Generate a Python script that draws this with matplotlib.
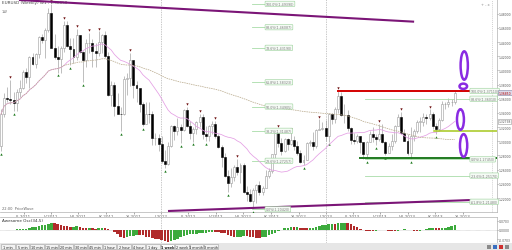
import matplotlib
matplotlib.use("Agg")
import matplotlib.pyplot as plt
from matplotlib.patches import Ellipse, Rectangle
import numpy as np
import pandas as pd

# EUR/USD weekly, week of 2011-01-10 .. week of 2013-10-14
start_date = "2011-01-10"
first_open = 1.2940
closes = [1.3382, 1.3612, 1.3602, 1.3580, 1.3546, 1.3697, 1.3754, 1.3980, 1.3906, 1.4183,
          1.4091, 1.4232, 1.4474, 1.4431, 1.4563, 1.4806, 1.4320, 1.4190, 1.4155, 1.4315,
          1.4640, 1.4350, 1.4305, 1.4196, 1.4500, 1.4260, 1.4150, 1.4380, 1.4390, 1.4280,
          1.4240, 1.4395, 1.4495, 1.4210, 1.3650, 1.3790, 1.3500, 1.3390, 1.3380, 1.3880,
          1.3895, 1.4150, 1.3790, 1.3750, 1.3520, 1.3240, 1.3390, 1.3380, 1.3040, 1.3050,
          1.2960, 1.2720, 1.2680, 1.2930, 1.3220, 1.3140, 1.3200, 1.3160, 1.3445, 1.3210,
          1.3120, 1.3170, 1.3275, 1.3340, 1.3100, 1.3075, 1.3220, 1.3240, 1.3080, 1.2915,
          1.2780, 1.2510, 1.2415, 1.2500, 1.2640, 1.2570, 1.2660, 1.2290, 1.2250, 1.2155,
          1.2320, 1.2385, 1.2290, 1.2335, 1.2515, 1.2575, 1.2815, 1.3120, 1.2980, 1.2860,
          1.3035, 1.2955, 1.3020, 1.2940, 1.2835, 1.2710, 1.2740, 1.2975, 1.2985, 1.2930,
          1.3160, 1.3180, 1.3190, 1.3070, 1.3385, 1.3315, 1.3460, 1.3635, 1.3365, 1.3365,
          1.3190, 1.3020, 1.3005, 1.3075, 1.2985, 1.2820, 1.2990, 1.3110, 1.3055, 1.3030,
          1.3110, 1.2990, 1.2835, 1.2935, 1.3000, 1.3220, 1.3345, 1.3120, 1.3010, 1.2835,
          1.3070, 1.3145, 1.3275, 1.3275, 1.3345, 1.3325, 1.3380, 1.3215, 1.3170, 1.3300,
          1.3525, 1.3525, 1.3555, 1.3555, 1.3685]
highs = [1.3457, 1.3686, 1.3760, 1.3862, 1.3690, 1.3740, 1.3860, 1.4000, 1.4035, 1.4200,
         1.4250, 1.4250, 1.4490, 1.4520, 1.4600, 1.4880, 1.4939, 1.4520, 1.4345, 1.4345,
         1.4700, 1.4700, 1.4450, 1.4450, 1.4580, 1.4500, 1.4270, 1.4440, 1.4530, 1.4440,
         1.4380, 1.4550, 1.4520, 1.4550, 1.4260, 1.3850, 1.3840, 1.3680, 1.3490, 1.3915,
         1.3960, 1.4247, 1.4080, 1.3850, 1.3620, 1.3560, 1.3550, 1.3550, 1.3430, 1.3120,
         1.3110, 1.3080, 1.2880, 1.2990, 1.3235, 1.3235, 1.3322, 1.3240, 1.3450, 1.3486,
         1.3290, 1.3195, 1.3290, 1.3385, 1.3380, 1.3210, 1.3225, 1.3280, 1.3285, 1.3100,
         1.2950, 1.2830, 1.2590, 1.2625, 1.2670, 1.2747, 1.2692, 1.2690, 1.2370, 1.2330,
         1.2340, 1.2400, 1.2440, 1.2370, 1.2590, 1.2620, 1.2820, 1.3170, 1.3172, 1.3050,
         1.3050, 1.3040, 1.3140, 1.3070, 1.3010, 1.2880, 1.2800, 1.2985, 1.3020, 1.3130,
         1.3170, 1.3308, 1.3270, 1.3300, 1.3405, 1.3403, 1.3480, 1.3711, 1.3700, 1.3520,
         1.3440, 1.3200, 1.3120, 1.3100, 1.3020, 1.2960, 1.3000, 1.3140, 1.3200, 1.3110,
         1.3240, 1.3240, 1.3005, 1.2980, 1.3110, 1.3230, 1.3390, 1.3415, 1.3180, 1.3110,
         1.3200, 1.3180, 1.3300, 1.3345, 1.3400, 1.3390, 1.3450, 1.3420, 1.3260, 1.3330,
         1.3570, 1.3550, 1.3610, 1.3590, 1.3705]
lows = [1.2867, 1.3341, 1.3555, 1.3530, 1.3430, 1.3430, 1.3620, 1.3740, 1.3820, 1.3745,
        1.4080, 1.4040, 1.4180, 1.4380, 1.4180, 1.4540, 1.4310, 1.4160, 1.3970, 1.3970,
        1.4260, 1.4330, 1.4070, 1.4100, 1.4140, 1.4250, 1.3837, 1.4050, 1.4250, 1.4050,
        1.4050, 1.4210, 1.4240, 1.4180, 1.3640, 1.3500, 1.3360, 1.3380, 1.3145, 1.3370,
        1.3650, 1.3780, 1.3610, 1.3550, 1.3420, 1.3210, 1.3250, 1.3260, 1.2950, 1.2950,
        1.2860, 1.2700, 1.2624, 1.2665, 1.2920, 1.3020, 1.3095, 1.2975, 1.3150, 1.3200,
        1.3030, 1.2997, 1.3110, 1.3200, 1.3030, 1.3000, 1.3000, 1.3100, 1.3040, 1.2900,
        1.2640, 1.2495, 1.2288, 1.2360, 1.2440, 1.2520, 1.2406, 1.2270, 1.2160, 1.2140,
        1.2042, 1.2130, 1.2240, 1.2240, 1.2350, 1.2480, 1.2550, 1.2740, 1.2920, 1.2800,
        1.2850, 1.2880, 1.2950, 1.2880, 1.2800, 1.2690, 1.2660, 1.2730, 1.2930, 1.2875,
        1.2910, 1.3160, 1.3160, 1.3000, 1.2995, 1.3250, 1.3260, 1.3400, 1.3360, 1.3260,
        1.3140, 1.2960, 1.2955, 1.2970, 1.2840, 1.2750, 1.2745, 1.2990, 1.2995, 1.2950,
        1.3010, 1.2980, 1.2800, 1.2830, 1.2880, 1.2980, 1.3210, 1.3100, 1.3000, 1.2805,
        1.2755, 1.3010, 1.3120, 1.3130, 1.3220, 1.3240, 1.3300, 1.3180, 1.3105, 1.3150,
        1.3290, 1.3460, 1.3490, 1.3500, 1.3520]

# fibonacci tools and hand drawn lines
fib_ratios = [0.0, 0.236, 0.382, 0.5, 0.618, 0.786, 0.886, 1.0]
fib2_levels = [1.3711, 1.3601, 1.2745, 1.2517, 1.2148]
fib2_names = ["100.0%", "88.6%", "0.0%", "-23.6%", "-61.8%"]
red_level = 1.3711
support_level = 1.2760
mid_level = 1.3145
upper_trend = ([5.7, 131.1], [1.4993, 1.4687])
lower_trend = ([53.0, 149.2], [1.2017, 1.2172])

month_roman = ["I", "II", "III", "IV", "V", "VI", "VII", "VIII", "IX", "X", "XI", "XII"]
tf_buttons = ["1 min", "5 min", "10 min", "15 min", "20 min", "30 min", "45 min", "1 hour",
              "2 hour", "4 hour", "1 day", "1 week", "2 week", "1 month", "3 month"]

closes = np.array(closes)
highs = np.array(highs)
lows = np.array(lows)
opens = np.concatenate([[first_open], closes[:-1]])
n = len(closes)
idx = np.arange(n)
dates = pd.date_range(start_date, periods=n, freq="W-MON")

fig = plt.figure(figsize=(5.12, 2.51), dpi=100)
fig.patch.set_facecolor("white")


def px_axes(x0, y0, x1, y1):
    return fig.add_axes([x0 / 512, 1 - y1 / 251, (x1 - x0) / 512, (y1 - y0) / 251])


ax = px_axes(0, 0, 497, 213)
ax_ao = px_axes(0, 218, 497, 244)
ax_tb = px_axes(0, 244, 512, 251)

xlim = (-0.32, 157.4)

# candles
up = closes >= opens
body_lo = np.minimum(opens, closes)
body_h = np.maximum(np.abs(closes - opens), 0.0006)
ax.vlines(idx, lows, highs, color="#a4a4a4", lw=0.5, zorder=2)
ax.bar(idx[up], body_h[up], bottom=body_lo[up], width=0.62, facecolor="white",
       edgecolor="#999999", lw=0.4, zorder=3)
ax.bar(idx[~up], body_h[~up], bottom=body_lo[~up], width=0.62, facecolor="black",
       edgecolor="black", lw=0.4, zorder=3)

# fractals
up_f = [i for i in range(2, n - 2) if highs[i] > max(highs[i-2:i]) and highs[i] >= max(highs[i+1:i+3])]
dn_f = [i for i in range(2, n - 2) if lows[i] < min(lows[i-2:i]) and lows[i] <= min(lows[i+1:i+3])]
dn_f = [0] + dn_f
ax.scatter(up_f, highs[up_f] + 0.004, marker="v", s=3, color="#6e1010", zorder=4, lw=0)
ax.scatter(dn_f, lows[dn_f] - 0.004, marker="^", s=3, color="#1f7a1f", zorder=4, lw=0)

# moving averages
cs = pd.Series(closes)
sma_fast = cs.rolling(21, min_periods=1).mean()
sma_slow = cs.rolling(100, min_periods=1).mean()
ax.plot(idx, sma_fast, color="#e49ee4", lw=0.55, zorder=4)
ax.plot(idx, sma_slow, color="#bcae92", lw=0.55, ls=(0, (2, 1)), zorder=4)

# trend lines
ax.plot(*upper_trend, color="#7b1577", lw=1.5, zorder=5, solid_capstyle="butt")
ax.plot(*lower_trend, color="#7b1577", lw=1.5, zorder=5, solid_capstyle="butt")

# fibonacci from the 2011 high to the 2012 low
lbl_box = dict(boxstyle="round,pad=0.2", fc="#f5fbf5", ec="#98d098", lw=0.4)
hi, lo = highs.max(), lows.min()
i_lo = int(np.argmin(lows))
for r in fib_ratios:
    lev = lo + r * (hi - lo)
    ax.plot([i_lo - 0.3, 84], [lev, lev], color="#a8dca8", lw=0.6, zorder=2)
    ax.text(84, lev, f"{r*100:.1f}%({lev:.5f})", fontsize=2.3, color="#7a7a7a",
            va="center", ha="left", bbox=lbl_box, zorder=6)

# fibonacci from the 2013 high / low
i_hi13 = 107
i_lo13 = 116
for name, lev in zip(fib2_names, fib2_levels):
    ax.plot([i_lo13 - 0.5, 148.8], [lev, lev], color="#a8dca8", lw=0.6, zorder=2)
    ax.text(149, lev, f"{name}({lev:.5f})", fontsize=2.3, color="#7a7a7a",
            va="center", ha="left", bbox=lbl_box, zorder=6)

ax.plot([i_hi13, 148.8], [red_level, red_level], color="#d40000", lw=1.4, zorder=5)
ax.plot([114, xlim[1]], [support_level, support_level], color="#1f7a1f", lw=1.4, zorder=5)
ax.plot([137.5, xlim[1]], [mid_level, mid_level], color="#a6c81c", lw=1.1, zorder=5)

# hand drawn "0" marks
mark = dict(fill=False, ec="#8a2be2", lw=1.8, zorder=7)
ax.add_patch(Ellipse((147.0, 1.4069), 2.3, 0.040, **mark))
ax.add_patch(Ellipse((146.7, 1.3776), 2.4, 0.0075, **mark))
ax.add_patch(Ellipse((145.8, 1.3307), 2.2, 0.029, **mark))
ax.add_patch(Ellipse((146.8, 1.2941), 2.3, 0.032, **mark))

# year separators
for yr in ["2012-01-01", "2013-01-01"]:
    p = (pd.Timestamp(yr) - dates[0]).days / 7
    for a in (ax, ax_ao):
        a.axvline(p, color="#b4b4b4", lw=0.5, ls=(0, (2, 1.5)), zorder=1)

# axes styling
ax.set_xlim(*xlim)
ax.set_ylim(1.2003, 1.5007)
ax.yaxis.tick_right()
yt = np.arange(1.22, 1.4801, 0.02)
ax.set_yticks(yt, [f"{v:.5f}" for v in yt])
ax.tick_params(axis="y", labelsize=2.2, colors="#555555", length=1, pad=0.5, width=0.4)
months = pd.date_range("2011-03-01", "2013-11-01", freq="2MS")
mpos = [(m - dates[0]).days / 7 for m in months]
ax.set_xticks(mpos, [f"{month_roman[m.month-1]}-{m.year}" for m in months])
ax.tick_params(axis="x", labelsize=3, colors="#666666", length=1.2, pad=0.6, width=0.4)
for s in ["top", "left"]:
    ax.spines[s].set_visible(False)
for s in ["right", "bottom"]:
    ax.spines[s].set_color("#b0b0b0")
    ax.spines[s].set_linewidth(0.5)
ax.plot([492 / 497, 492 / 497], [0, 1], transform=ax.transAxes, color="#c0c0c0",
        lw=0.5, ls=(0, (1.5, 1.5)), clip_on=False)

# price boxes on the axis
ax.text(1.003, closes[-1], f"{closes[-1]:.5f}", transform=ax.get_yaxis_transform(),
        fontsize=2.2, color="#b00000", va="center", ha="left", zorder=8,
        bbox=dict(boxstyle="square,pad=0.15", fc="#dcdcec", ec="#8080a0", lw=0.4))
ax.text(1.003, sma_fast.iloc[-1], f"{sma_fast.iloc[-1]:.5f}", transform=ax.get_yaxis_transform(),
        fontsize=2.2, color="#555555", va="center", ha="left", zorder=8,
        bbox=dict(boxstyle="square,pad=0.15", fc="white", ec="#999999", lw=0.4))

ax.text(0.004, 0.997, f"EURUSD (Weekly) W1 - {closes[-1]:.5f}", transform=ax.transAxes,
        fontsize=3, color="#444444", va="top", ha="left")
ax.text(0.004, 0.955, "1W", transform=ax.transAxes, fontsize=2.6, color="#666666",
        va="top", ha="left")
ax.text(0.004, 0.008, "22:00  PriceWave", transform=ax.transAxes, fontsize=2.6,
        color="#666666", va="bottom", ha="left")
ax.text(0.985, 0.985, "+ - x", transform=ax.transAxes, fontsize=2.6, color="#888888",
        va="top", ha="right")

# awesome oscillator
med = pd.Series((highs + lows) / 2)
ao = (med.rolling(5, min_periods=1).mean() - med.rolling(34, min_periods=1).mean()).values
ao_col = ["#3caa3c" if i > 0 and ao[i] > ao[i - 1] else "#b02a2a" for i in range(n)]
ao_col[0] = "#3caa3c"
ax_ao.bar(idx, ao, width=0.8, color=ao_col, lw=0, zorder=3)
lim = np.abs(ao).max() * 1.12
ax_ao.set_xlim(*xlim)
ax_ao.set_ylim(-lim, lim)
ax_ao.axhline(0, color="#b0b0b0", lw=0.4, ls=(0, (1, 1)), zorder=1)
ax_ao.yaxis.tick_right()
aot = [lim * 0.7, 0.0, -lim * 0.7]
ax_ao.set_yticks(aot, [f"{v:.4f}" for v in aot])
ax_ao.tick_params(axis="y", labelsize=2.2, colors="#555555", length=1, pad=0.5, width=0.4)
ax_ao.set_xticks([])
for s in ["left", "bottom"]:
    ax_ao.spines[s].set_visible(False)
for s in ["right", "top"]:
    ax_ao.spines[s].set_color("#b0b0b0")
    ax_ao.spines[s].set_linewidth(0.5)
ax_ao.text(0.004, 0.97, "Awesome Osc(34,5)", transform=ax_ao.transAxes, fontsize=3,
           color="#333333", va="top", ha="left")

# time-frame toolbar
ax_tb.set_xlim(0, 512)
ax_tb.set_ylim(0, 7)
ax_tb.axis("off")
ax_tb.add_patch(Rectangle((0, 0), 512, 7, fc="#e6e6e6", ec="none"))
bw = 14.5
for k, name in enumerate(tf_buttons):
    x0 = 1 + k * bw
    active = name == "1 week"
    ax_tb.add_patch(Rectangle((x0, 0.6), bw - 0.6, 5.6, fc="white" if active else "#f2f2f2",
                              ec="#a0a0a0", lw=0.4))
    ax_tb.text(x0 + (bw - 0.6) / 2, 3.4, name, fontsize=2.4, ha="center", va="center",
               color="#222222", fontweight="bold" if active else "normal")
for k, c in enumerate(["#8a8a8a", "#3a6fc0", "#d03030", "#8a8a8a"]):
    ax_tb.add_patch(Rectangle((487 + k * 6, 1.2), 4.2, 4.2, fc=c, ec="none"))

fig.savefig("out.png", dpi=100, facecolor="white")
